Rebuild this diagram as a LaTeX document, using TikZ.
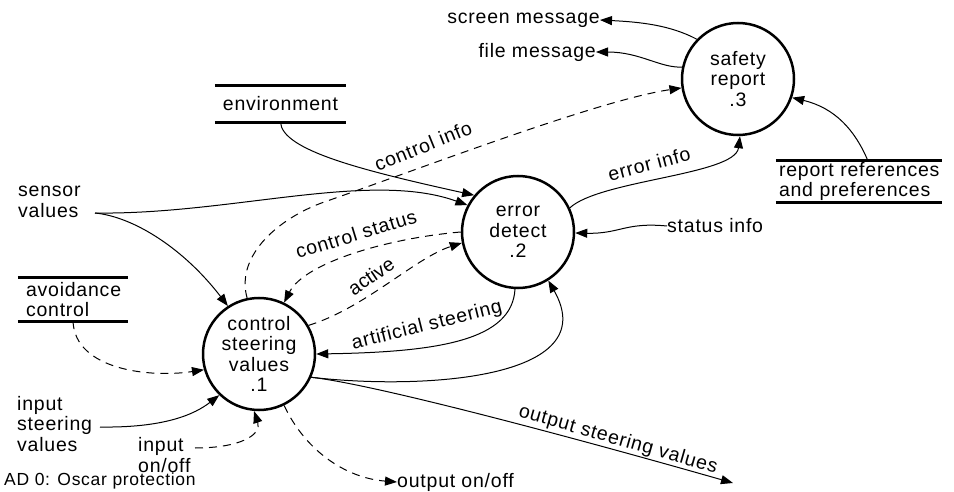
\documentclass[tikz,border=0pt]{standalone}
\usepackage{fontspec}
\setmainfont{Liberation Sans}[LetterSpace=4]
\usetikzlibrary{arrows.meta}

\begin{document}
\begin{tikzpicture}[x=1pt,y=-1pt,
  every node/.style={font=\fontsize{19.5}{20.5}\selectfont, inner sep=0pt},
  proc/.style={circle, draw, line width=2.5pt, minimum size=112pt, align=center},
  flow/.style={line width=1pt, -{Triangle[length=12pt,width=9pt]}},
  ctrl/.style={flow, dash pattern=on 8pt off 6pt},
  storeline/.style={line width=3pt},
  lbl/.style={align=left}]

\useasboundingbox (0,0) rectangle (954,492);

% processes
\node[proc] (p1) at (259,354) {control\\steering\\values\\.1};
\node[proc] (p2) at (518,232) {error\\detect\\.2};
\node[proc] (p3) at (738,79) {safety\\report\\.3};

% data stores
\node[minimum width=131pt, minimum height=36pt] (env) at (280.5,104) {environment};
\draw[storeline] (env.north west) -- (env.north east) (env.south west) -- (env.south east);
\node[minimum width=110pt, minimum height=43pt, text width=94pt, align=left, inner xsep=8pt] (avo) at (73,299.5) {avoidance\\control};
\draw[storeline] (avo.north west) -- (avo.north east) (avo.south west) -- (avo.south east);
\node[minimum width=166pt, minimum height=41pt, text width=160pt, align=left, inner xsep=3pt] (rep) at (859,181.5) {report references\\and preferences};
\draw[storeline] (rep.north west) -- (rep.north east) (rep.south west) -- (rep.south east);

% terminators
\node[lbl, anchor=west] (sv) at (18,202) {sensor\\values};
\node[lbl, anchor=west] (isv) at (17,424) {input\\steering\\values};
\node[lbl, anchor=west] (ioo) at (138,455) {input\\on/off};
\node[anchor=west] (ooo) at (397,482) {output on/off};
\node[anchor=west] (sti) at (667,226) {status info};
\node[anchor=east] (scr) at (600,20) {screen message};
\node[anchor=east] (fil) at (596,52) {file message};
\node[anchor=west, font=\fontsize{17.5}{19}\selectfont] (cap) at (4,481) {AD 0: Oscar protection};

\coordinate (svout) at (95,213);
\coordinate (isvout) at (100,427);
\coordinate (iooout) at (195,448);
\coordinate (osv) at (733,483);
\coordinate (repout) at (868,161);

% data flows
\draw[flow] (svout) .. controls (135,217) and (185,250) .. (p1.123);
\draw[flow] (svout) .. controls (230,215) and (370,170) .. (p2.152);
\draw[flow] (env.south) .. controls (282,150) and (360,170) .. (p2.140);
\draw[flow] (isvout) .. controls (165,428) and (195,414) .. (p1.226);
\draw[flow] (p2.267) .. controls (512,340) and (440,352) .. (p1.0);
\draw[flow] (p1.-24) .. controls (420,390) and (605,380) .. (p2.-58);
\draw[flow] (p1.-24) .. controls (380,385) and (600,445) .. (osv);
\draw[flow] (sti.west) .. controls (625,222) and (620,234) .. (p2.-1);
\draw[flow] (p2.25) .. controls (600,180) and (735,175) .. (p3.272);
\draw[flow] (repout) .. controls (855,130) and (835,108) .. (p3.-19);
\draw[flow] (p3.136) .. controls (670,25) and (640,22) .. (scr.east);
\draw[flow] (p3.168) .. controls (660,68) and (640,52) .. (fil.east);

% control flows
\draw[ctrl] (p1.102) .. controls (235,255) and (280,216) .. (330,200)
            .. controls (430,165) and (600,100) .. (p3.189);
\draw[ctrl] (p2.180) .. controls (390,238) and (305,262) .. (p1.64);
\draw[ctrl] (p1.30) .. controls (365,308) and (415,258) .. (p2.191);
\draw[ctrl] (avo.south) .. controls (75,370) and (150,378) .. (p1.196);
\draw[ctrl] (iooout) .. controls (240,448) and (262,435) .. (p1.265);
\draw[ctrl] (p1.-64) .. controls (305,450) and (345,478) .. (ooo.west);

% flow labels
\node[rotate=22] (lci) at (423,146) {control info};
\node[rotate=17] (lcs) at (356,234) {control status};
\node[rotate=34] (lac) at (371,276) {\addfontfeature{LetterSpace=0}active};
\node[rotate=14] (las) at (427,326) {artificial steering};
\node[rotate=15] (lei) at (649,164) {error info};
\node[rotate=-16] (los) at (618,440) {output steering values};
\end{tikzpicture}
\end{document}
